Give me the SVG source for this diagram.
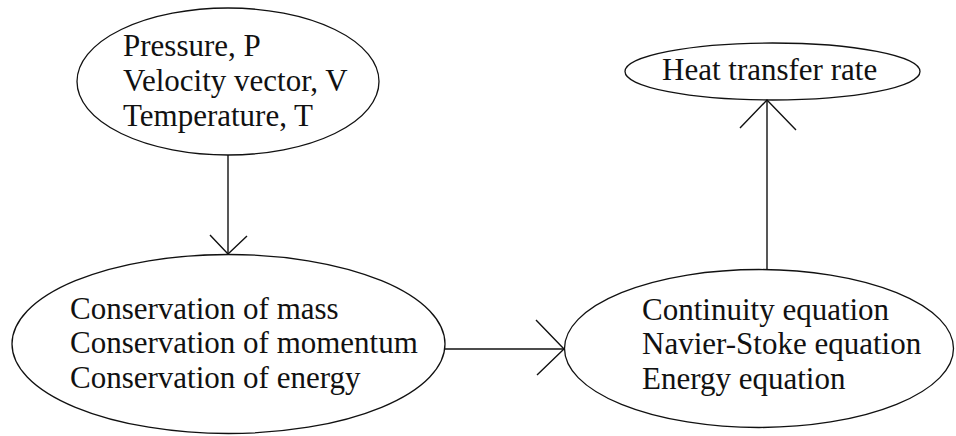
<svg xmlns="http://www.w3.org/2000/svg" width="956" height="436" viewBox="0 0 956 436">
<style>
.node ellipse{fill:#fff;stroke:#111;stroke-width:1.3}
.node text{font-family:"Liberation Serif","Times New Roman",serif;font-size:31px;fill:#111}
.conn line,.conn polyline{fill:none;stroke:#111;stroke-width:1.4}
</style>
<rect width="956" height="436" fill="#fff"/>
<g id="n-inputs" class="node">
<ellipse cx="228" cy="81.5" rx="151" ry="73.5"/>
<text x="123" y="56">Pressure, P</text>
<text x="123" y="91">Velocity vector, V</text>
<text x="123" y="126">Temperature, T</text>
</g>
<g id="n-conservation" class="node">
<ellipse cx="228.5" cy="344" rx="216.5" ry="89.5"/>
<text x="70" y="319">Conservation of mass</text>
<text x="70" y="353">Conservation of momentum</text>
<text x="70" y="388">Conservation of energy</text>
</g>
<g id="n-equations" class="node">
<ellipse cx="759" cy="348.5" rx="194.5" ry="79"/>
<text x="642" y="320">Continuity equation</text>
<text x="642" y="354">Navier-Stoke equation</text>
<text x="642" y="389">Energy equation</text>
</g>
<g id="n-heat" class="node">
<ellipse cx="772.5" cy="71.5" rx="147.5" ry="28.5"/>
<text x="662" y="80">Heat transfer rate</text>
</g>
<g id="connectors" class="conn">
<line x1="228" y1="155" x2="228" y2="254"/>
<polyline points="210,235 228,254 247,236"/>
<line x1="445" y1="349" x2="564" y2="349"/>
<polyline points="536,320 564,349 537,375"/>
<line x1="767" y1="269" x2="767" y2="100"/>
<polyline points="740,128 767,100 796,130"/>
</g>
</svg>
